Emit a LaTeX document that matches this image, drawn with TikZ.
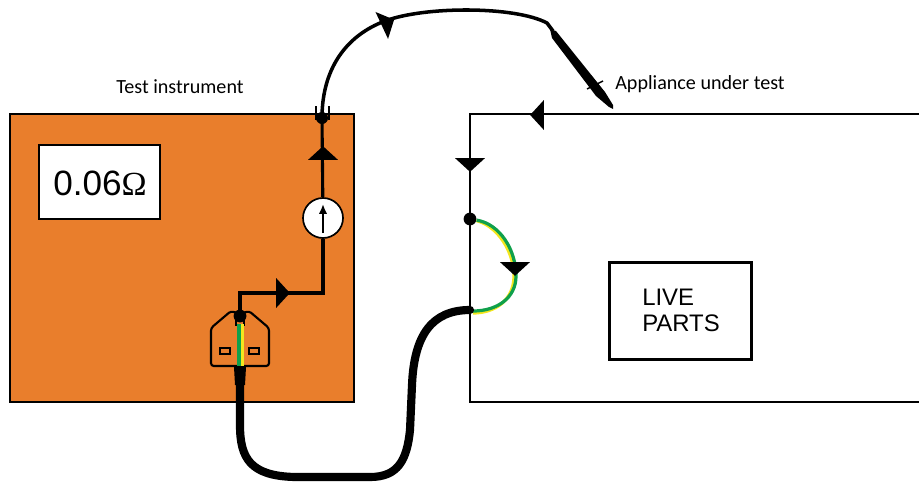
\documentclass[tikz,border=0pt]{standalone}
\usepackage{fontspec}
\setmainfont{Carlito}
\newfontfamily\arialfont{Liberation Sans}
\newfontfamily\symbfont{Liberation Serif}
\usetikzlibrary{shapes.geometric, arrows.meta}
\definecolor{caseorange}{HTML}{E97E2C}
\definecolor{earthgreen}{HTML}{0FA04B}
\definecolor{earthyellow}{HTML}{F4E61E}
\tikzset{
    wire/.style={line width=2.2pt, black},
    thinwire/.style={line width=1.2pt, black},
    lead/.style={line width=5.8pt, black, line cap=round},
    flowtip/.style={isosceles triangle, isosceles triangle apex angle=95, fill=black, inner sep=0pt, minimum height=0.34cm, minimum width=0.62cm, anchor=center},
    joint/.style={circle, fill=black, inner sep=0pt, minimum size=0.32cm},
    caption/.style={font=\fontsize{14.3}{16}\selectfont, inner sep=0pt},
}
\begin{document}
\begin{tikzpicture}[x=0.025cm, y=-0.025cm]
    \useasboundingbox (0,0) rectangle (919,481);

    % --- Test instrument ---
    \fill[caseorange] (10,114) rectangle (354,402);
    \draw[thinwire] (10,114) rectangle (354,402);
    \node[caption] (instrlabel) at (180,87) {Test instrument};
    \node[draw, thinwire, fill=white, minimum width=3.02cm, minimum height=1.85cm, inner sep=0pt] (display) at (99.5,182) {};
    \node[inner sep=0pt, anchor=base west] (reading) at (53,195) {\arialfont\fontsize{25}{25}\selectfont 0.06\symbfont\fontsize{24}{24}\selectfont Ω};

    % --- Appliance under test ---
    \coordinate (boxtr) at (919,114);
    \coordinate (boxtl) at (470,114);
    \coordinate (boxbl) at (470,402);
    \coordinate (boxbr) at (919,402);
    \draw[thinwire] (boxtr) -- (boxtl) -- (boxbl) -- (boxbr);
    \node[caption] (applabel) at (700,84) {Appliance under test};
    \node[draw, line width=1.8pt, minimum width=3.55cm, minimum height=2.42cm, inner sep=0pt] (live) at (680.5,311) {};
    \node[inner sep=0pt, anchor=base west] (liveone) at (642,305) {\arialfont\fontsize{17}{18}\selectfont LIVE};
    \node[inner sep=0pt, anchor=base west] (livetwo) at (642,331) {\arialfont\fontsize{17}{18}\selectfont PARTS};

    % --- Mains inlet ---
    \coordinate (inlettop) at (240,316);
    \coordinate (inletbase) at (240,366);
    \coordinate (leadstart) at (240,385);
    \coordinate (bend) at (240,293);
    \coordinate (riser) at (323,293);
    \draw[line width=1.5pt, rounded corners=2pt] (211,366) -- (211,328) -- (231,311) to[out=-20,in=200] (249,311) -- (269,328) -- (269,366) -- cycle;
    \draw[line width=0.9pt] (220,348) rectangle (230,354);
    \draw[line width=0.9pt] (249,348) rectangle (259,354);
    \draw[line width=0.9pt] (236,318) rectangle (244,325);
    \draw[earthgreen, line width=2.2pt] (239,324) -- (239,366);
    \draw[earthyellow, line width=1.6pt] (242.5,324) -- (242.5,366);
    \fill (234,367) -- (246,367) -- (245,385) -- (235,385) -- cycle;

    % --- Meter and test circuit ---
    \node[draw, thinwire, fill=white, circle, minimum size=1cm, inner sep=0pt] (meter) at (323,218) {};
    \coordinate (socket) at (322,118);
    \draw[wire] (inlettop) -- (bend) -- (riser) -- (meter);
    \draw[wire] (meter) -- (socket);
    \draw[line width=1.4pt, -{Latex[length=7pt,width=6pt]}] (323,233) -- (323,204);
    \node[joint] (inletjoint) at (inlettop) {};
    \node[circle, fill=black, inner sep=0pt, minimum size=0.3cm] (socketjoint) at (socket) {};
    \draw[line width=1.3pt] (316,106) -- (316,120);
    \draw[line width=1.3pt] (329,106) -- (329,120);

    % --- Test probe lead ---
    \coordinate (probeneck) at (553,31);
    \coordinate (probetip) at (613,109);
    \draw[line width=2.5pt] (socket) .. controls (322,70) and (345,36) .. (385,21) .. controls (425,6) and (515,6) .. (547,23) -- (probeneck);
    \fill (550,29) -- (556,31) -- (605,92) -- (613,105) -- (613,109) -- (609,107) -- (596,96) -- (552,38) -- cycle;
    \draw[line width=1.1pt] (587,89) -- (603,81);

    % --- Earth lead ---
    \node[joint] (appjoint) at (470,219) {};
    \coordinate (entry) at (470,310);
    \draw[earthyellow, line width=2.3pt] (appjoint) .. controls (498,226) and (514,252) .. (514,276) .. controls (514,300) and (495,313) .. (473,313);
    \draw[earthgreen, line width=2.3pt] (appjoint) .. controls (500,224) and (516,250) .. (516,276) .. controls (516,298) and (497,311) .. (473,311);
    \draw[lead] (leadstart) -- (240,425) .. controls (240,458) and (250,476) .. (295,477) -- (370,477) .. controls (398,477) and (407,460) .. (410,430) -- (412,385) .. controls (414,335) and (432,310) .. (entry);

    % --- Direction of the test current ---
    \foreach \tipx/\tipy/\tipangle in {323/154/90, 282/293/0, 387/23/25, 538/115/180, 470/164/-90, 515/268/-90} {
        \node[flowtip, rotate=\tipangle] at (\tipx,\tipy) {};
    }
\end{tikzpicture}
\end{document}
